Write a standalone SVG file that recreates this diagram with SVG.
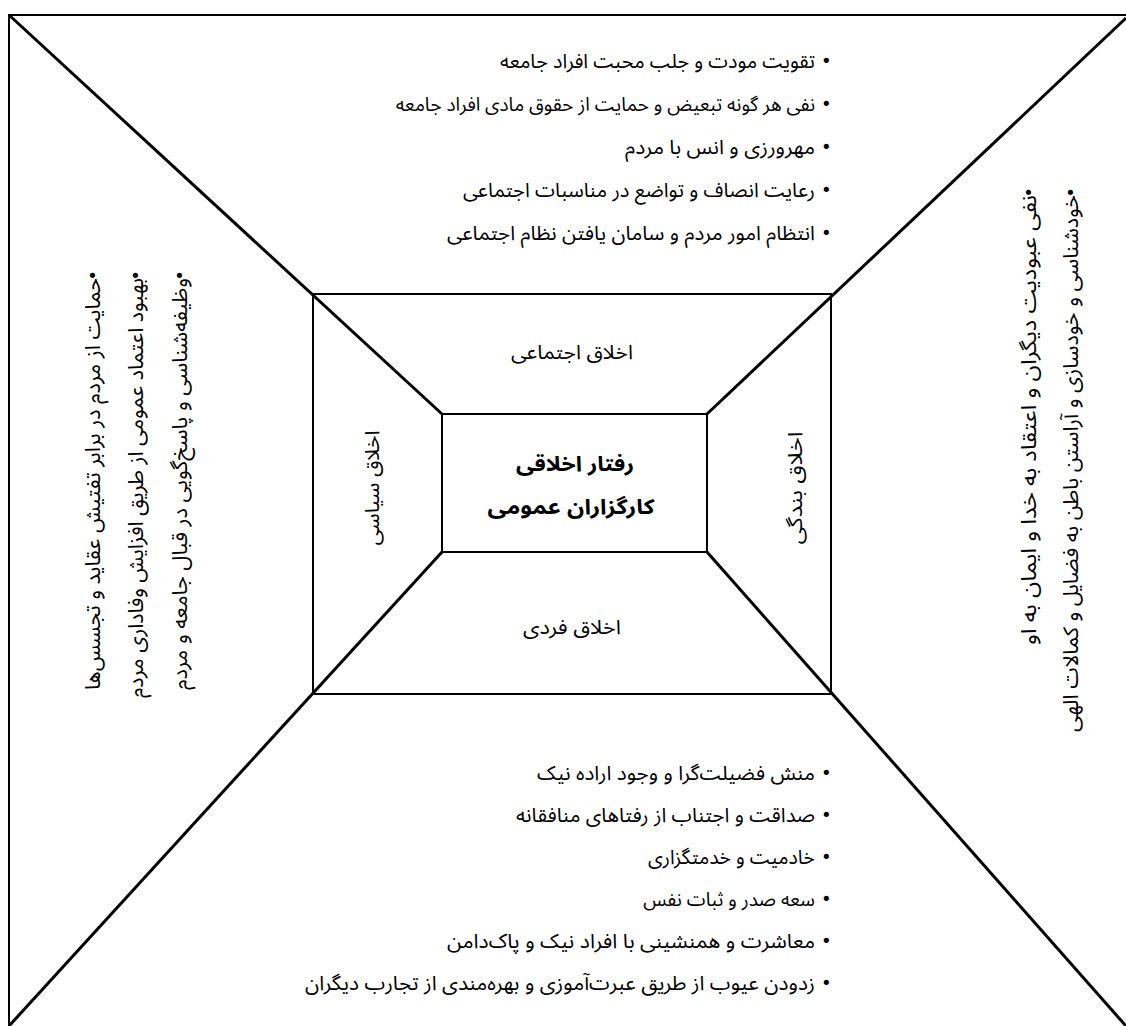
<svg xmlns="http://www.w3.org/2000/svg" width="1126" height="1026" viewBox="0 0 1126 1026">
<style>
.t{font-family:'Noto Sans Arabic','DejaVu Sans',sans-serif;font-size:20px;fill:#000}
.s{font-family:'Noto Sans Arabic','DejaVu Sans',sans-serif;font-size:19px;fill:#000}
.v{font-family:'Noto Sans Arabic','DejaVu Sans',sans-serif;font-size:21px;fill:#000}
.b{font-family:'DejaVu Sans',sans-serif;font-size:18px;fill:#000}
.c{font-family:'Noto Sans Arabic','DejaVu Sans',sans-serif;font-size:21px;font-weight:bold;fill:#000}
.ln{stroke:#000;stroke-width:2;fill:none}
.dg{stroke:#000;stroke-width:3;fill:none}
</style>
<rect width="1126" height="1026" fill="#fff"/>
<g id="connectors">
<polyline class="ln" points="9,1026 9,15 1126,15"/>
<line class="dg" x1="9" y1="15" x2="442" y2="414"/>
<line class="dg" x1="1126" y1="18" x2="707" y2="414"/>
<line class="dg" x1="9" y1="1026" x2="442" y2="552"/>
<line class="dg" x1="1126" y1="1026" x2="707" y2="552"/>
</g>
<g id="outer-frame">
<rect class="ln" x="313" y="294" width="518" height="400"/>
</g>
<g id="center">
<rect class="ln" x="442" y="414" width="265" height="138" fill="#fff"/>
<text class="c" x="575" y="471" text-anchor="middle" textLength="118" lengthAdjust="spacingAndGlyphs">رفتار اخلاقی</text>
<text class="c" x="571" y="514" text-anchor="middle" textLength="167" lengthAdjust="spacingAndGlyphs">کارگزاران عمومی</text>
</g>
<g id="social">
<text class="t" x="572" y="359" text-anchor="middle" textLength="122" lengthAdjust="spacingAndGlyphs">اخلاق اجتماعی</text>
</g>
<g id="individual">
<text class="t" x="572" y="634" text-anchor="middle" textLength="98" lengthAdjust="spacingAndGlyphs">اخلاق فردی</text>
</g>
<g id="political">
<text class="t" transform="translate(379,488) rotate(-90)" text-anchor="middle" textLength="115" lengthAdjust="spacingAndGlyphs">اخلاق سیاسی</text>
</g>
<g id="worship">
<text class="t" transform="translate(802,488) rotate(-90)" text-anchor="middle" textLength="113" lengthAdjust="spacingAndGlyphs">اخلاق بندگی</text>
</g>
<g id="top-list">
<text class="b" x="821" y="67">•</text><text class="t" x="815" y="68" text-anchor="end" textLength="315" lengthAdjust="spacingAndGlyphs">تقویت مودت و جلب محبت افراد جامعه</text>
<text class="b" x="821" y="110">•</text><text class="s" x="815" y="111" text-anchor="end">نفی هر گونه تبعیض و حمایت از حقوق مادی افراد جامعه</text>
<text class="b" x="821" y="153">•</text><text class="t" x="815" y="154" text-anchor="end" textLength="190" lengthAdjust="spacingAndGlyphs">مهرورزی و انس با مردم</text>
<text class="b" x="821" y="196">•</text><text class="t" x="815" y="197" text-anchor="end" textLength="352" lengthAdjust="spacingAndGlyphs">رعایت انصاف و تواضع در مناسبات اجتماعی</text>
<text class="b" x="821" y="239">•</text><text class="t" x="815" y="240" text-anchor="end" textLength="368" lengthAdjust="spacingAndGlyphs">انتظام امور مردم و سامان یافتن نظام اجتماعی</text>
</g>
<g id="bottom-list">
<text class="b" x="821" y="779">•</text><text class="t" x="815" y="780" text-anchor="end" textLength="278" lengthAdjust="spacingAndGlyphs">منش فضیلت‌گرا و وجود اراده نیک</text>
<text class="b" x="821" y="821">•</text><text class="t" x="815" y="822" text-anchor="end" textLength="299" lengthAdjust="spacingAndGlyphs">صداقت و اجتناب از رفتاهای منافقانه</text>
<text class="b" x="821" y="863">•</text><text class="t" x="815" y="864" text-anchor="end" textLength="167" lengthAdjust="spacingAndGlyphs">خادمیت و خدمتگزاری</text>
<text class="b" x="821" y="905">•</text><text class="s" x="815" y="906" text-anchor="end">سعه صدر و ثبات نفس</text>
<text class="b" x="821" y="947">•</text><text class="t" x="815" y="948" text-anchor="end" textLength="368" lengthAdjust="spacingAndGlyphs">معاشرت و همنشینی با افراد نیک و پاک‌دامن</text>
<text class="b" x="821" y="989">•</text><text class="t" x="815" y="990" text-anchor="end" textLength="510" lengthAdjust="spacingAndGlyphs">زدودن عیوب از طریق عبرت‌آموزی و بهره‌مندی از تجارب دیگران</text>
</g>
<g id="left-list">
<g transform="translate(100,266) rotate(-90)"><text class="b" x="-4" y="-1" text-anchor="end">•</text><text class="v" x="-12" y="0" text-anchor="end" textLength="412" lengthAdjust="spacingAndGlyphs">حمایت از مردم در برابر تفتیش عقاید و تجسس‌ها</text></g>
<g transform="translate(143,266) rotate(-90)"><text class="b" x="-4" y="-1" text-anchor="end">•</text><text class="v" x="-12" y="0" text-anchor="end" textLength="420" lengthAdjust="spacingAndGlyphs">بهبود اعتماد عمومی از طریق افزایش وفاداری مردم</text></g>
<g transform="translate(187,266) rotate(-90)"><text class="b" x="-4" y="-1" text-anchor="end">•</text><text class="v" x="-12" y="0" text-anchor="end" textLength="412" lengthAdjust="spacingAndGlyphs">وظیفه‌شناسی و پاسخ‌گویی در قبال جامعه و مردم</text></g>
</g>
<g id="right-list">
<g transform="translate(1036,183) rotate(-90)"><text class="b" x="-4" y="-1" text-anchor="end">•</text><text class="v" x="-12" y="0" text-anchor="end" textLength="450" lengthAdjust="spacingAndGlyphs">نفی عبودیت دیگران و اعتقاد به خدا و ایمان به او</text></g>
<g transform="translate(1078,183) rotate(-90)"><text class="b" x="-4" y="-1" text-anchor="end">•</text><text class="v" x="-12" y="0" text-anchor="end" textLength="537" lengthAdjust="spacingAndGlyphs">خودشناسی و خودسازی و آراستن باطن به فضایل و کمالات الهی</text></g>
</g>
</svg>
